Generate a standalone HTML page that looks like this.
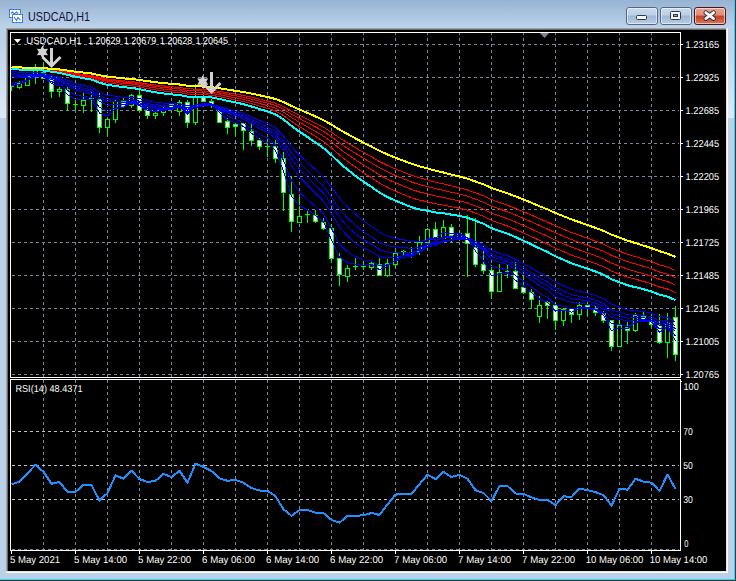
<!DOCTYPE html>
<html><head><meta charset="utf-8"><style>
html,body{margin:0;padding:0;width:736px;height:581px;overflow:hidden;background:#bbd1ea;}
svg{position:absolute;left:0;top:0;display:block}
</style></head><body>
<svg width="736" height="581" viewBox="0 0 736 581">
<defs>
<linearGradient id="tb" x1="0" y1="0" x2="0" y2="1">
<stop offset="0" stop-color="#97b3d3"/><stop offset="1" stop-color="#bcd3eb"/>
</linearGradient>
<linearGradient id="bt" x1="0" y1="0" x2="0" y2="1">
<stop offset="0" stop-color="#c9dbee"/><stop offset="0.45" stop-color="#bdd0e6"/><stop offset="0.5" stop-color="#9db7d4"/><stop offset="1" stop-color="#b8cee6"/>
</linearGradient>
<linearGradient id="cl" x1="0" y1="0" x2="0" y2="1">
<stop offset="0" stop-color="#e9a493"/><stop offset="0.45" stop-color="#df8d78"/><stop offset="0.5" stop-color="#c2401f"/><stop offset="1" stop-color="#da7a62"/>
</linearGradient>
<linearGradient id="lp" x1="0" y1="0" x2="0" y2="1">
<stop offset="0" stop-color="#bbd1ea"/><stop offset="1" stop-color="#dde9f6"/>
</linearGradient>
</defs>
<rect x="0" y="0" width="736" height="581" fill="#bbd1ea"/>
<rect x="0" y="0" width="736" height="28" fill="url(#tb)"/>
<rect x="0" y="40" width="6" height="78" fill="url(#lp)"/>
<rect x="728" y="40" width="6" height="78" fill="url(#lp)"/>
<rect x="734" y="0" width="1" height="580" fill="#3ccdf0"/>
<rect x="735" y="0" width="1" height="581" fill="#28404c"/>
<rect x="0" y="579" width="735" height="1" fill="#3ccdf0"/>
<rect x="0" y="580" width="736" height="1" fill="#28404c"/>
<g shape-rendering="crispEdges">
<rect x="9.5" y="9.5" width="11" height="8" fill="#fff" stroke="#4a86f0" stroke-width="1"/>
<rect x="9.5" y="9.5" width="11" height="8" fill="none" stroke="#3d7068" stroke-width="1" stroke-dasharray="1 2"/>
<rect x="12.5" y="14.5" width="10" height="8" fill="#fff" stroke="#4a86f0" stroke-width="1"/>
<rect x="12.5" y="14.5" width="10" height="8" fill="none" stroke="#3d7068" stroke-width="1" stroke-dasharray="1 2"/>
</g>
<polyline points="11,13.5 12.5,12 14,13.5 15,13.5 16.5,12 18,13.5" fill="none" stroke="#3a78f0" stroke-width="1.1"/>
<polyline points="14,17 16.5,20.5 18,17.5 20.5,20.5" fill="none" stroke="#3a78f0" stroke-width="1.1"/>
<text x="28" y="20.5" font-family="Liberation Sans, sans-serif" font-size="12.3px" fill="#10103a" textLength="62" lengthAdjust="spacingAndGlyphs">USDCAD,H1</text>
<rect x="626.5" y="7.5" width="31" height="17" rx="2.5" fill="url(#bt)" stroke="#56677f"/><rect x="627.5" y="8.5" width="29" height="15" rx="1.5" fill="none" stroke="rgba(255,255,255,0.55)"/><rect x="660.5" y="7.5" width="31" height="17" rx="2.5" fill="url(#bt)" stroke="#56677f"/><rect x="661.5" y="8.5" width="29" height="15" rx="1.5" fill="none" stroke="rgba(255,255,255,0.55)"/><rect x="694.5" y="7.5" width="31" height="17" rx="2.5" fill="url(#cl)" stroke="#4a1418"/><rect x="695.5" y="8.5" width="29" height="15" rx="1.5" fill="none" stroke="rgba(255,255,255,0.55)"/><rect x="636.5" y="15.5" width="10" height="4" rx="1" fill="#f4f4f4" stroke="#2f3646"/><rect x="670.5" y="11.5" width="10" height="8" rx="1" fill="#f4f4f4" stroke="#2f3646"/><rect x="673.5" y="14.5" width="4" height="2" fill="#8fa6c4" stroke="#2f3646"/><path d="M705.8,12.6 L713.6,18.6 M713.6,12.6 L705.8,18.6" stroke="#2d2d3d" stroke-width="4.6" stroke-linecap="round"/><path d="M705.8,12.6 L713.6,18.6 M713.6,12.6 L705.8,18.6" stroke="#f4f4f4" stroke-width="2.8" stroke-linecap="round"/>
<g shape-rendering="crispEdges">
<rect x="6" y="28" width="722" height="545" fill="#ffffff"/>
<rect x="6" y="28" width="721" height="544" fill="#e3e3e3"/>
<rect x="6" y="28" width="720" height="543" fill="#a0a0a0"/>
<rect x="7" y="29" width="719" height="542" fill="#e3e3e3"/>
<rect x="7" y="29" width="719" height="542" fill="#696969"/>
<rect x="8" y="30" width="718" height="541" fill="#000"/>
<rect x="726" y="29" width="1" height="543" fill="#e3e3e3"/>
<rect x="7" y="571" width="720" height="1" fill="#e3e3e3"/>
</g>
<g shape-rendering="crispEdges" fill="none" stroke-width="1">
<line x1="43.5" y1="32" x2="43.5" y2="377" stroke="#778899" stroke-dasharray="3 3"/>
<line x1="43.5" y1="380" x2="43.5" y2="550" stroke="#778899" stroke-dasharray="3 3"/>
<line x1="75.5" y1="32" x2="75.5" y2="377" stroke="#778899" stroke-dasharray="3 3"/>
<line x1="75.5" y1="380" x2="75.5" y2="550" stroke="#778899" stroke-dasharray="3 3"/>
<line x1="107.5" y1="32" x2="107.5" y2="377" stroke="#778899" stroke-dasharray="3 3"/>
<line x1="107.5" y1="380" x2="107.5" y2="550" stroke="#778899" stroke-dasharray="3 3"/>
<line x1="139.5" y1="32" x2="139.5" y2="377" stroke="#778899" stroke-dasharray="3 3"/>
<line x1="139.5" y1="380" x2="139.5" y2="550" stroke="#778899" stroke-dasharray="3 3"/>
<line x1="171.5" y1="32" x2="171.5" y2="377" stroke="#778899" stroke-dasharray="3 3"/>
<line x1="171.5" y1="380" x2="171.5" y2="550" stroke="#778899" stroke-dasharray="3 3"/>
<line x1="203.5" y1="32" x2="203.5" y2="377" stroke="#778899" stroke-dasharray="3 3"/>
<line x1="203.5" y1="380" x2="203.5" y2="550" stroke="#778899" stroke-dasharray="3 3"/>
<line x1="235.5" y1="32" x2="235.5" y2="377" stroke="#778899" stroke-dasharray="3 3"/>
<line x1="235.5" y1="380" x2="235.5" y2="550" stroke="#778899" stroke-dasharray="3 3"/>
<line x1="267.5" y1="32" x2="267.5" y2="377" stroke="#778899" stroke-dasharray="3 3"/>
<line x1="267.5" y1="380" x2="267.5" y2="550" stroke="#778899" stroke-dasharray="3 3"/>
<line x1="299.5" y1="32" x2="299.5" y2="377" stroke="#778899" stroke-dasharray="3 3"/>
<line x1="299.5" y1="380" x2="299.5" y2="550" stroke="#778899" stroke-dasharray="3 3"/>
<line x1="331.5" y1="32" x2="331.5" y2="377" stroke="#778899" stroke-dasharray="3 3"/>
<line x1="331.5" y1="380" x2="331.5" y2="550" stroke="#778899" stroke-dasharray="3 3"/>
<line x1="363.5" y1="32" x2="363.5" y2="377" stroke="#778899" stroke-dasharray="3 3"/>
<line x1="363.5" y1="380" x2="363.5" y2="550" stroke="#778899" stroke-dasharray="3 3"/>
<line x1="395.5" y1="32" x2="395.5" y2="377" stroke="#778899" stroke-dasharray="3 3"/>
<line x1="395.5" y1="380" x2="395.5" y2="550" stroke="#778899" stroke-dasharray="3 3"/>
<line x1="427.5" y1="32" x2="427.5" y2="377" stroke="#778899" stroke-dasharray="3 3"/>
<line x1="427.5" y1="380" x2="427.5" y2="550" stroke="#778899" stroke-dasharray="3 3"/>
<line x1="459.5" y1="32" x2="459.5" y2="377" stroke="#778899" stroke-dasharray="3 3"/>
<line x1="459.5" y1="380" x2="459.5" y2="550" stroke="#778899" stroke-dasharray="3 3"/>
<line x1="491.5" y1="32" x2="491.5" y2="377" stroke="#778899" stroke-dasharray="3 3"/>
<line x1="491.5" y1="380" x2="491.5" y2="550" stroke="#778899" stroke-dasharray="3 3"/>
<line x1="523.5" y1="32" x2="523.5" y2="377" stroke="#778899" stroke-dasharray="3 3"/>
<line x1="523.5" y1="380" x2="523.5" y2="550" stroke="#778899" stroke-dasharray="3 3"/>
<line x1="555.5" y1="32" x2="555.5" y2="377" stroke="#778899" stroke-dasharray="3 3"/>
<line x1="555.5" y1="380" x2="555.5" y2="550" stroke="#778899" stroke-dasharray="3 3"/>
<line x1="587.5" y1="32" x2="587.5" y2="377" stroke="#778899" stroke-dasharray="3 3"/>
<line x1="587.5" y1="380" x2="587.5" y2="550" stroke="#778899" stroke-dasharray="3 3"/>
<line x1="619.5" y1="32" x2="619.5" y2="377" stroke="#778899" stroke-dasharray="3 3"/>
<line x1="619.5" y1="380" x2="619.5" y2="550" stroke="#778899" stroke-dasharray="3 3"/>
<line x1="651.5" y1="32" x2="651.5" y2="377" stroke="#778899" stroke-dasharray="3 3"/>
<line x1="651.5" y1="380" x2="651.5" y2="550" stroke="#778899" stroke-dasharray="3 3"/>
<line x1="12" y1="44.5" x2="679" y2="44.5" stroke="#778899" stroke-dasharray="3 3"/>
<line x1="12" y1="77.5" x2="679" y2="77.5" stroke="#778899" stroke-dasharray="3 3"/>
<line x1="12" y1="110.5" x2="679" y2="110.5" stroke="#778899" stroke-dasharray="3 3"/>
<line x1="12" y1="143.5" x2="679" y2="143.5" stroke="#778899" stroke-dasharray="3 3"/>
<line x1="12" y1="176.5" x2="679" y2="176.5" stroke="#778899" stroke-dasharray="3 3"/>
<line x1="12" y1="209.5" x2="679" y2="209.5" stroke="#778899" stroke-dasharray="3 3"/>
<line x1="12" y1="242.5" x2="679" y2="242.5" stroke="#778899" stroke-dasharray="3 3"/>
<line x1="12" y1="275.5" x2="679" y2="275.5" stroke="#778899" stroke-dasharray="3 3"/>
<line x1="12" y1="308.5" x2="679" y2="308.5" stroke="#778899" stroke-dasharray="3 3"/>
<line x1="12" y1="341.5" x2="679" y2="341.5" stroke="#778899" stroke-dasharray="3 3"/>
<line x1="12" y1="374.5" x2="679" y2="374.5" stroke="#778899" stroke-dasharray="3 3"/>
<line x1="12" y1="549.5" x2="679" y2="549.5" stroke="#778899" stroke-dasharray="3 3"/>
<line x1="12" y1="431.5" x2="679" y2="431.5" stroke="#c0c0c0" stroke-dasharray="3 3"/>
<line x1="12" y1="465.5" x2="679" y2="465.5" stroke="#c0c0c0" stroke-dasharray="3 3"/>
<line x1="12" y1="499.5" x2="679" y2="499.5" stroke="#c0c0c0" stroke-dasharray="3 3"/>
<rect x="10.5" y="32.5" width="670" height="345" stroke="#fff"/>
<rect x="10.5" y="379.5" width="670" height="171" stroke="#fff"/>
<rect x="681" y="44" width="2" height="1" fill="#fff" stroke="none"/>
<rect x="681" y="77" width="2" height="1" fill="#fff" stroke="none"/>
<rect x="681" y="110" width="2" height="1" fill="#fff" stroke="none"/>
<rect x="681" y="143" width="2" height="1" fill="#fff" stroke="none"/>
<rect x="681" y="176" width="2" height="1" fill="#fff" stroke="none"/>
<rect x="681" y="209" width="2" height="1" fill="#fff" stroke="none"/>
<rect x="681" y="242" width="2" height="1" fill="#fff" stroke="none"/>
<rect x="681" y="275" width="2" height="1" fill="#fff" stroke="none"/>
<rect x="681" y="308" width="2" height="1" fill="#fff" stroke="none"/>
<rect x="681" y="341" width="2" height="1" fill="#fff" stroke="none"/>
<rect x="681" y="374" width="2" height="1" fill="#fff" stroke="none"/>
<rect x="681" y="381" width="1" height="1" fill="#fff" stroke="none"/>
<rect x="11" y="551" width="1" height="3" fill="#fff" stroke="none"/>
<rect x="75" y="551" width="1" height="3" fill="#fff" stroke="none"/>
<rect x="139" y="551" width="1" height="3" fill="#fff" stroke="none"/>
<rect x="203" y="551" width="1" height="3" fill="#fff" stroke="none"/>
<rect x="267" y="551" width="1" height="3" fill="#fff" stroke="none"/>
<rect x="331" y="551" width="1" height="3" fill="#fff" stroke="none"/>
<rect x="395" y="551" width="1" height="3" fill="#fff" stroke="none"/>
<rect x="459" y="551" width="1" height="3" fill="#fff" stroke="none"/>
<rect x="523" y="551" width="1" height="3" fill="#fff" stroke="none"/>
<rect x="587" y="551" width="1" height="3" fill="#fff" stroke="none"/>
<rect x="651" y="551" width="1" height="3" fill="#fff" stroke="none"/>
<polygon points="540,33 549,33 544.5,38" fill="#778899" stroke="none" shape-rendering="auto"/>
</g>
<clipPath id="mc"><rect x="11" y="33" width="669" height="344"/></clipPath>
<clipPath id="rc"><rect x="11" y="380" width="669" height="170"/></clipPath>
<g clip-path="url(#mc)" shape-rendering="crispEdges">
<rect x="11" y="86" width="3" height="1" fill="#00ff00"/><rect x="11" y="86" width="1" height="5" fill="#00ff00"/>
<rect x="19" y="81" width="1" height="8" fill="#00ff00"/>
<rect x="17.5" y="83.5" width="4" height="4" fill="#000" stroke="#00ff00"/>
<rect x="27" y="74" width="1" height="12" fill="#00ff00"/>
<rect x="25.5" y="76.5" width="4" height="9" fill="#000" stroke="#00ff00"/>
<rect x="35" y="64" width="1" height="20" fill="#00ff00"/>
<rect x="33.5" y="70.5" width="4" height="6" fill="#000" stroke="#00ff00"/>
<rect x="43" y="62" width="1" height="16" fill="#00ff00"/>
<rect x="41.5" y="72.5" width="4" height="6" fill="#fff" stroke="#00ff00"/>
<rect x="51" y="75" width="1" height="23" fill="#00ff00"/>
<rect x="49.5" y="78.5" width="4" height="13" fill="#fff" stroke="#00ff00"/>
<rect x="59" y="87" width="1" height="10" fill="#00ff00"/>
<rect x="57.5" y="89.5" width="4" height="2" fill="#000" stroke="#00ff00"/>
<rect x="67" y="87" width="1" height="24" fill="#00ff00"/>
<rect x="65.5" y="89.5" width="4" height="14" fill="#fff" stroke="#00ff00"/>
<rect x="75" y="99" width="1" height="11" fill="#00ff00"/>
<rect x="73" y="104" width="5" height="1" fill="#00ff00"/>
<rect x="83" y="93" width="1" height="20" fill="#00ff00"/>
<rect x="81.5" y="100.5" width="4" height="5" fill="#000" stroke="#00ff00"/>
<rect x="91" y="92" width="1" height="20" fill="#00ff00"/>
<rect x="89" y="98" width="5" height="1" fill="#00ff00"/>
<rect x="99" y="92" width="1" height="41" fill="#00ff00"/>
<rect x="97.5" y="99.5" width="4" height="28" fill="#fff" stroke="#00ff00"/>
<rect x="107" y="118" width="1" height="18" fill="#00ff00"/>
<rect x="105.5" y="119.5" width="4" height="8" fill="#000" stroke="#00ff00"/>
<rect x="115" y="100" width="1" height="23" fill="#00ff00"/>
<rect x="113.5" y="101.5" width="4" height="18" fill="#000" stroke="#00ff00"/>
<rect x="123" y="98" width="1" height="9" fill="#00ff00"/>
<rect x="121.5" y="101.5" width="4" height="5" fill="#fff" stroke="#00ff00"/>
<rect x="131" y="94" width="1" height="14" fill="#00ff00"/>
<rect x="129.5" y="95.5" width="4" height="10" fill="#000" stroke="#00ff00"/>
<rect x="139" y="90" width="1" height="20" fill="#00ff00"/>
<rect x="137.5" y="95.5" width="4" height="15" fill="#fff" stroke="#00ff00"/>
<rect x="147" y="107" width="1" height="12" fill="#00ff00"/>
<rect x="145.5" y="110.5" width="4" height="5" fill="#fff" stroke="#00ff00"/>
<rect x="155" y="111" width="1" height="8" fill="#00ff00"/>
<rect x="153.5" y="113.5" width="4" height="2" fill="#000" stroke="#00ff00"/>
<rect x="163" y="105" width="1" height="11" fill="#00ff00"/>
<rect x="161.5" y="109.5" width="4" height="3" fill="#000" stroke="#00ff00"/>
<rect x="171" y="103" width="1" height="10" fill="#00ff00"/>
<rect x="169.5" y="104.5" width="4" height="4" fill="#fff" stroke="#00ff00"/>
<rect x="179" y="100" width="1" height="16" fill="#00ff00"/>
<rect x="177.5" y="102.5" width="4" height="9" fill="#000" stroke="#00ff00"/>
<rect x="187" y="100" width="1" height="28" fill="#00ff00"/>
<rect x="185.5" y="102.5" width="4" height="20" fill="#fff" stroke="#00ff00"/>
<rect x="195" y="84" width="1" height="41" fill="#00ff00"/>
<rect x="193.5" y="97.5" width="4" height="25" fill="#000" stroke="#00ff00"/>
<rect x="203" y="94" width="1" height="8" fill="#00ff00"/>
<rect x="201.5" y="97.5" width="4" height="4" fill="#fff" stroke="#00ff00"/>
<rect x="211" y="99" width="1" height="9" fill="#00ff00"/>
<rect x="209.5" y="101.5" width="4" height="3" fill="#fff" stroke="#00ff00"/>
<rect x="219" y="109" width="1" height="14" fill="#00ff00"/>
<rect x="217.5" y="111.5" width="4" height="11" fill="#fff" stroke="#00ff00"/>
<rect x="227" y="118" width="1" height="16" fill="#00ff00"/>
<rect x="225.5" y="121.5" width="4" height="6" fill="#fff" stroke="#00ff00"/>
<rect x="235" y="123" width="1" height="13" fill="#00ff00"/>
<rect x="233.5" y="124.5" width="4" height="2" fill="#fff" stroke="#00ff00"/>
<rect x="243" y="122" width="1" height="28" fill="#00ff00"/>
<rect x="241.5" y="123.5" width="4" height="7" fill="#fff" stroke="#00ff00"/>
<rect x="251" y="124" width="1" height="22" fill="#00ff00"/>
<rect x="249.5" y="131.5" width="4" height="9" fill="#fff" stroke="#00ff00"/>
<rect x="259" y="138" width="1" height="12" fill="#00ff00"/>
<rect x="257.5" y="140.5" width="4" height="6" fill="#fff" stroke="#00ff00"/>
<rect x="267" y="138" width="1" height="19" fill="#00ff00"/>
<rect x="265" y="146" width="5" height="1" fill="#00ff00"/>
<rect x="275" y="140" width="1" height="23" fill="#00ff00"/>
<rect x="273.5" y="146.5" width="4" height="12" fill="#fff" stroke="#00ff00"/>
<rect x="283" y="152" width="1" height="59" fill="#00ff00"/>
<rect x="281.5" y="158.5" width="4" height="34" fill="#fff" stroke="#00ff00"/>
<rect x="291" y="176" width="1" height="56" fill="#00ff00"/>
<rect x="289.5" y="194.5" width="4" height="27" fill="#fff" stroke="#00ff00"/>
<rect x="299" y="197" width="1" height="26" fill="#00ff00"/>
<rect x="297.5" y="216.5" width="4" height="6" fill="#000" stroke="#00ff00"/>
<rect x="307" y="211" width="1" height="12" fill="#00ff00"/>
<rect x="305" y="214" width="5" height="1" fill="#00ff00"/>
<rect x="315" y="210" width="1" height="13" fill="#00ff00"/>
<rect x="313.5" y="215.5" width="4" height="6" fill="#fff" stroke="#00ff00"/>
<rect x="323" y="218" width="1" height="12" fill="#00ff00"/>
<rect x="321.5" y="222.5" width="4" height="6" fill="#fff" stroke="#00ff00"/>
<rect x="331" y="224" width="1" height="38" fill="#00ff00"/>
<rect x="329.5" y="228.5" width="4" height="30" fill="#fff" stroke="#00ff00"/>
<rect x="339" y="253" width="1" height="33" fill="#00ff00"/>
<rect x="337.5" y="258.5" width="4" height="16" fill="#fff" stroke="#00ff00"/>
<rect x="347" y="265" width="1" height="17" fill="#00ff00"/>
<rect x="345.5" y="268.5" width="4" height="8" fill="#000" stroke="#00ff00"/>
<rect x="355" y="258" width="1" height="12" fill="#00ff00"/>
<rect x="353" y="266" width="5" height="1" fill="#00ff00"/>
<rect x="363" y="261" width="1" height="9" fill="#00ff00"/>
<rect x="361" y="266" width="5" height="1" fill="#00ff00"/>
<rect x="371" y="260" width="1" height="10" fill="#00ff00"/>
<rect x="369.5" y="263.5" width="4" height="4" fill="#000" stroke="#00ff00"/>
<rect x="379" y="258" width="1" height="18" fill="#00ff00"/>
<rect x="377.5" y="264.5" width="4" height="11" fill="#fff" stroke="#00ff00"/>
<rect x="387" y="259" width="1" height="18" fill="#00ff00"/>
<rect x="385.5" y="263.5" width="4" height="12" fill="#000" stroke="#00ff00"/>
<rect x="395" y="251" width="1" height="17" fill="#00ff00"/>
<rect x="393.5" y="253.5" width="4" height="11" fill="#000" stroke="#00ff00"/>
<rect x="403" y="250" width="1" height="6" fill="#00ff00"/>
<rect x="401" y="251" width="5" height="1" fill="#00ff00"/>
<rect x="411" y="247" width="1" height="11" fill="#00ff00"/>
<rect x="409" y="254" width="5" height="1" fill="#00ff00"/>
<rect x="419" y="236" width="1" height="19" fill="#00ff00"/>
<rect x="417.5" y="242.5" width="4" height="9" fill="#000" stroke="#00ff00"/>
<rect x="427" y="228" width="1" height="22" fill="#00ff00"/>
<rect x="425.5" y="229.5" width="4" height="13" fill="#000" stroke="#00ff00"/>
<rect x="435" y="222" width="1" height="16" fill="#00ff00"/>
<rect x="433.5" y="229.5" width="4" height="8" fill="#fff" stroke="#00ff00"/>
<rect x="443" y="220" width="1" height="19" fill="#00ff00"/>
<rect x="441.5" y="227.5" width="4" height="11" fill="#000" stroke="#00ff00"/>
<rect x="451" y="224" width="1" height="19" fill="#00ff00"/>
<rect x="449.5" y="227.5" width="4" height="8" fill="#fff" stroke="#00ff00"/>
<rect x="459" y="230" width="1" height="11" fill="#00ff00"/>
<rect x="457.5" y="233.5" width="4" height="4" fill="#000" stroke="#00ff00"/>
<rect x="467" y="215" width="1" height="62" fill="#00ff00"/>
<rect x="465.5" y="233.5" width="4" height="10" fill="#fff" stroke="#00ff00"/>
<rect x="475" y="218" width="1" height="49" fill="#00ff00"/>
<rect x="473.5" y="247.5" width="4" height="17" fill="#fff" stroke="#00ff00"/>
<rect x="483" y="246" width="1" height="28" fill="#00ff00"/>
<rect x="481.5" y="264.5" width="4" height="6" fill="#fff" stroke="#00ff00"/>
<rect x="491" y="265" width="1" height="34" fill="#00ff00"/>
<rect x="489.5" y="270.5" width="4" height="21" fill="#fff" stroke="#00ff00"/>
<rect x="499" y="264" width="1" height="27" fill="#00ff00"/>
<rect x="497.5" y="272.5" width="4" height="19" fill="#000" stroke="#00ff00"/>
<rect x="507" y="265" width="1" height="13" fill="#00ff00"/>
<rect x="505" y="271" width="5" height="1" fill="#00ff00"/>
<rect x="515" y="262" width="1" height="27" fill="#00ff00"/>
<rect x="513.5" y="271.5" width="4" height="17" fill="#fff" stroke="#00ff00"/>
<rect x="523" y="276" width="1" height="18" fill="#00ff00"/>
<rect x="521.5" y="287.5" width="4" height="5" fill="#fff" stroke="#00ff00"/>
<rect x="531" y="289" width="1" height="20" fill="#00ff00"/>
<rect x="529.5" y="292.5" width="4" height="7" fill="#fff" stroke="#00ff00"/>
<rect x="539" y="296" width="1" height="27" fill="#00ff00"/>
<rect x="537.5" y="305.5" width="4" height="11" fill="#000" stroke="#00ff00"/>
<rect x="547" y="301" width="1" height="18" fill="#00ff00"/>
<rect x="545.5" y="302.5" width="4" height="3" fill="#fff" stroke="#00ff00"/>
<rect x="555" y="302" width="1" height="28" fill="#00ff00"/>
<rect x="553.5" y="305.5" width="4" height="15" fill="#fff" stroke="#00ff00"/>
<rect x="563" y="308" width="1" height="18" fill="#00ff00"/>
<rect x="561.5" y="309.5" width="4" height="11" fill="#000" stroke="#00ff00"/>
<rect x="571" y="308" width="1" height="15" fill="#00ff00"/>
<rect x="569.5" y="308.5" width="4" height="6" fill="#fff" stroke="#00ff00"/>
<rect x="579" y="302" width="1" height="18" fill="#00ff00"/>
<rect x="577.5" y="305.5" width="4" height="9" fill="#000" stroke="#00ff00"/>
<rect x="587" y="301" width="1" height="15" fill="#00ff00"/>
<rect x="585.5" y="305.5" width="4" height="3" fill="#fff" stroke="#00ff00"/>
<rect x="595" y="306" width="1" height="10" fill="#00ff00"/>
<rect x="593.5" y="308.5" width="4" height="4" fill="#fff" stroke="#00ff00"/>
<rect x="603" y="311" width="1" height="12" fill="#00ff00"/>
<rect x="601.5" y="313.5" width="4" height="7" fill="#fff" stroke="#00ff00"/>
<rect x="611" y="320" width="1" height="31" fill="#00ff00"/>
<rect x="609.5" y="320.5" width="4" height="26" fill="#fff" stroke="#00ff00"/>
<rect x="619" y="320" width="1" height="26" fill="#00ff00"/>
<rect x="617.5" y="325.5" width="4" height="21" fill="#000" stroke="#00ff00"/>
<rect x="627" y="322" width="1" height="22" fill="#00ff00"/>
<rect x="625.5" y="327.5" width="4" height="3" fill="#fff" stroke="#00ff00"/>
<rect x="635" y="313" width="1" height="19" fill="#00ff00"/>
<rect x="633.5" y="315.5" width="4" height="15" fill="#000" stroke="#00ff00"/>
<rect x="643" y="312" width="1" height="10" fill="#00ff00"/>
<rect x="641.5" y="316.5" width="4" height="3" fill="#fff" stroke="#00ff00"/>
<rect x="651" y="314" width="1" height="14" fill="#00ff00"/>
<rect x="649.5" y="321.5" width="4" height="3" fill="#fff" stroke="#00ff00"/>
<rect x="659" y="314" width="1" height="30" fill="#00ff00"/>
<rect x="657.5" y="325.5" width="4" height="17" fill="#fff" stroke="#00ff00"/>
<rect x="667" y="313" width="1" height="45" fill="#00ff00"/>
<rect x="665.5" y="323.5" width="4" height="19" fill="#000" stroke="#00ff00"/>
<rect x="675" y="306" width="1" height="55" fill="#00ff00"/>
<rect x="673.5" y="317.5" width="4" height="37" fill="#fff" stroke="#00ff00"/>
</g>
<g clip-path="url(#mc)" fill="none" stroke-linejoin="miter" shape-rendering="crispEdges">
<polyline points="11.5,68.3 19.5,69.1 27.5,69.5 35.5,69.5 43.5,70.0 51.5,71.1 59.5,72.1 67.5,73.8 75.5,75.5 83.5,76.9 91.5,78.1 99.5,80.8 107.5,82.9 115.5,83.9 123.5,85.2 131.5,85.7 139.5,87.1 147.5,88.6 155.5,90.0 163.5,91.0 171.5,92.0 179.5,92.6 187.5,94.2 195.5,94.4 203.5,94.7 211.5,95.3 219.5,96.7 227.5,98.4 235.5,99.9 243.5,101.6 251.5,103.7 259.5,106.1 267.5,108.3 275.5,111.0 283.5,115.5 291.5,121.4 299.5,126.6 307.5,131.5 315.5,136.4 323.5,141.5 331.5,148.0 339.5,155.0 347.5,161.3 355.5,167.1 363.5,172.7 371.5,177.7 379.5,183.1 387.5,187.5 395.5,191.2 403.5,194.5 411.5,197.8 419.5,200.2 427.5,201.8 435.5,203.8 443.5,205.1 451.5,206.7 459.5,208.2 467.5,210.1 475.5,213.1 483.5,216.3 491.5,220.4 499.5,223.3 507.5,226.0 515.5,229.4 523.5,232.9 531.5,236.6 539.5,240.4 547.5,244.0 555.5,248.2 563.5,251.6 571.5,255.1 579.5,257.9 587.5,260.6 595.5,263.5 603.5,266.7 611.5,271.1 619.5,274.1 627.5,277.1 635.5,279.2 643.5,281.4 651.5,283.8 659.5,287.0 667.5,289.0 675.5,292.6" stroke="#ff0000" stroke-width="1"/>
<polyline points="11.5,68.2 19.5,68.9 27.5,69.2 35.5,69.3 43.5,69.7 51.5,70.7 59.5,71.6 67.5,73.1 75.5,74.6 83.5,75.9 91.5,77.0 99.5,79.4 107.5,81.4 115.5,82.3 123.5,83.5 131.5,84.0 139.5,85.3 147.5,86.8 155.5,88.0 163.5,89.1 171.5,90.0 179.5,90.6 187.5,92.2 195.5,92.4 203.5,92.8 211.5,93.4 219.5,94.7 227.5,96.3 235.5,97.8 243.5,99.3 251.5,101.3 259.5,103.5 267.5,105.5 275.5,108.1 283.5,112.2 291.5,117.5 299.5,122.3 307.5,126.8 315.5,131.4 323.5,136.1 331.5,142.0 339.5,148.5 347.5,154.3 355.5,159.8 363.5,165.0 371.5,169.8 379.5,174.9 387.5,179.2 395.5,182.8 403.5,186.1 411.5,189.4 419.5,192.0 427.5,193.8 435.5,195.9 443.5,197.4 451.5,199.3 459.5,200.9 467.5,203.0 475.5,205.9 483.5,209.1 491.5,213.1 499.5,215.9 507.5,218.7 515.5,222.0 523.5,225.4 531.5,229.0 539.5,232.8 547.5,236.3 555.5,240.4 563.5,243.7 571.5,247.2 579.5,250.0 587.5,252.8 595.5,255.7 603.5,258.9 611.5,263.1 619.5,266.1 627.5,269.2 635.5,271.5 643.5,273.8 651.5,276.2 659.5,279.4 667.5,281.5 675.5,285.1" stroke="#ff0000" stroke-width="1"/>
<polyline points="11.5,68.1 19.5,68.7 27.5,69.0 35.5,69.1 43.5,69.4 51.5,70.4 59.5,71.2 67.5,72.6 75.5,73.9 83.5,75.1 91.5,76.1 99.5,78.3 107.5,80.1 115.5,81.0 123.5,82.1 131.5,82.7 139.5,83.8 147.5,85.2 155.5,86.4 163.5,87.4 171.5,88.3 179.5,88.9 187.5,90.4 195.5,90.6 203.5,91.1 211.5,91.7 219.5,93.0 227.5,94.4 235.5,95.8 243.5,97.3 251.5,99.2 259.5,101.2 267.5,103.1 275.5,105.5 283.5,109.3 291.5,114.1 299.5,118.5 307.5,122.7 315.5,127.0 323.5,131.3 331.5,136.9 339.5,142.8 347.5,148.3 355.5,153.4 363.5,158.3 371.5,162.9 379.5,167.8 387.5,171.9 395.5,175.4 403.5,178.7 411.5,182.0 419.5,184.6 427.5,186.5 435.5,188.7 443.5,190.4 451.5,192.3 459.5,194.1 467.5,196.2 475.5,199.2 483.5,202.2 491.5,206.1 499.5,209.0 507.5,211.7 515.5,215.0 523.5,218.4 531.5,221.9 539.5,225.5 547.5,229.0 555.5,232.9 563.5,236.2 571.5,239.6 579.5,242.5 587.5,245.3 595.5,248.2 603.5,251.3 611.5,255.5 619.5,258.5 627.5,261.6 635.5,263.9 643.5,266.3 651.5,268.8 659.5,272.0 667.5,274.2 675.5,277.7" stroke="#ff0000" stroke-width="1"/>
<polyline points="11.5,68.0 19.5,68.6 27.5,68.9 35.5,68.9 43.5,69.3 51.5,70.1 59.5,70.8 67.5,72.1 75.5,73.4 83.5,74.4 91.5,75.4 99.5,77.4 107.5,79.0 115.5,79.9 123.5,80.9 131.5,81.5 139.5,82.6 147.5,83.9 155.5,85.0 163.5,85.9 171.5,86.8 179.5,87.4 187.5,88.8 195.5,89.1 203.5,89.6 211.5,90.1 219.5,91.4 227.5,92.8 235.5,94.1 243.5,95.5 251.5,97.2 259.5,99.1 267.5,101.0 275.5,103.2 283.5,106.7 291.5,111.2 299.5,115.3 307.5,119.1 315.5,123.1 323.5,127.2 331.5,132.4 339.5,137.9 347.5,143.0 355.5,147.9 363.5,152.5 371.5,156.9 379.5,161.5 387.5,165.5 395.5,168.9 403.5,172.1 411.5,175.3 419.5,177.9 427.5,179.9 435.5,182.2 443.5,183.9 451.5,185.9 459.5,187.8 467.5,190.0 475.5,192.9 483.5,195.9 491.5,199.6 499.5,202.5 507.5,205.2 515.5,208.4 523.5,211.7 531.5,215.1 539.5,218.7 547.5,222.1 555.5,225.9 563.5,229.2 571.5,232.5 579.5,235.3 587.5,238.2 595.5,241.1 603.5,244.2 611.5,248.2 619.5,251.2 627.5,254.3 635.5,256.6 643.5,259.1 651.5,261.6 659.5,264.8 667.5,267.1 675.5,270.5" stroke="#ff0000" stroke-width="1"/>
<polyline points="11.5,66.9 19.5,67.4 27.5,67.7 35.5,67.8 43.5,68.1 51.5,68.9 59.5,69.5 67.5,70.6 75.5,71.7 83.5,72.6 91.5,73.5 99.5,75.3 107.5,76.7 115.5,77.5 123.5,78.4 131.5,79.0 139.5,80.0 147.5,81.1 155.5,82.2 163.5,83.1 171.5,83.9 179.5,84.5 187.5,85.7 195.5,86.1 203.5,86.6 211.5,87.2 219.5,88.3 227.5,89.6 235.5,90.8 243.5,92.0 251.5,93.6 259.5,95.3 267.5,97.0 275.5,99.0 283.5,102.0 291.5,105.9 299.5,109.5 307.5,112.9 315.5,116.5 323.5,120.1 331.5,124.7 339.5,129.6 347.5,134.1 355.5,138.4 363.5,142.7 371.5,146.6 379.5,150.8 387.5,154.5 395.5,157.7 403.5,160.8 411.5,163.8 419.5,166.4 427.5,168.4 435.5,170.7 443.5,172.5 451.5,174.6 459.5,176.5 467.5,178.7 475.5,181.5 483.5,184.4 491.5,187.9 499.5,190.6 507.5,193.3 515.5,196.4 523.5,199.5 531.5,202.8 539.5,206.2 547.5,209.4 555.5,213.0 563.5,216.2 571.5,219.4 579.5,222.2 587.5,225.0 595.5,227.9 603.5,230.9 611.5,234.7 619.5,237.6 627.5,240.6 635.5,243.1 643.5,245.6 651.5,248.1 659.5,251.2 667.5,253.6 675.5,256.9" stroke="#ffff00" stroke-width="2"/>
<polyline points="11.5,71.0 19.5,72.5 27.5,72.9 35.5,72.6 43.5,73.2 51.5,75.4 59.5,77.1 67.5,80.3 75.5,83.3 83.5,85.4 91.5,87.1 99.5,92.1 107.5,95.4 115.5,96.1 123.5,97.4 131.5,97.1 139.5,98.7 147.5,100.7 155.5,102.3 163.5,103.1 171.5,103.8 179.5,103.6 187.5,105.9 195.5,104.8 203.5,104.3 211.5,104.3 219.5,106.4 227.5,109.0 235.5,111.1 243.5,113.5 251.5,116.8 259.5,120.4 267.5,123.6 275.5,127.9 283.5,135.9 291.5,146.5 299.5,155.2 307.5,162.5 315.5,169.8 323.5,177.1 331.5,187.2 339.5,198.1 347.5,206.9 355.5,214.3 363.5,220.8 371.5,226.1 379.5,232.2 387.5,236.1 395.5,238.2 403.5,239.8 411.5,241.5 419.5,241.6 427.5,240.0 435.5,239.6 443.5,238.1 451.5,237.7 459.5,237.1 467.5,237.8 475.5,241.1 483.5,244.7 491.5,250.5 499.5,253.2 507.5,255.5 515.5,259.5 523.5,263.6 531.5,268.0 539.5,272.7 547.5,276.8 555.5,282.2 563.5,285.6 571.5,289.1 579.5,291.1 587.5,293.2 595.5,295.5 603.5,298.6 611.5,304.6 619.5,307.1 627.5,309.9 635.5,310.6 643.5,311.6 651.5,313.1 659.5,316.7 667.5,317.5 675.5,322.1" stroke="#0000ff" stroke-width="1"/>
<polyline points="11.5,73.0 19.5,74.5 27.5,74.8 35.5,74.0 43.5,74.6 51.5,77.1 59.5,78.9 67.5,82.6 75.5,85.9 83.5,88.1 91.5,89.8 99.5,95.5 107.5,99.1 115.5,99.4 123.5,100.4 131.5,99.6 139.5,101.2 147.5,103.3 155.5,104.8 163.5,105.4 171.5,105.9 179.5,105.4 187.5,107.9 195.5,106.3 203.5,105.5 211.5,105.2 219.5,107.7 227.5,110.7 235.5,113.1 243.5,115.7 251.5,119.4 259.5,123.4 267.5,126.9 275.5,131.7 283.5,141.0 291.5,153.3 299.5,162.8 307.5,170.7 315.5,178.5 323.5,186.1 331.5,197.1 339.5,209.0 347.5,218.1 355.5,225.5 363.5,231.9 371.5,236.7 379.5,242.6 387.5,245.7 395.5,246.8 403.5,247.4 411.5,248.4 419.5,247.5 427.5,244.6 435.5,243.4 443.5,240.9 451.5,240.0 459.5,238.9 467.5,239.6 475.5,243.3 483.5,247.4 491.5,254.1 499.5,256.9 507.5,259.2 515.5,263.6 523.5,267.9 531.5,272.7 539.5,277.7 547.5,282.0 555.5,287.8 563.5,291.1 571.5,294.7 579.5,296.3 587.5,298.0 595.5,300.2 603.5,303.3 611.5,309.9 619.5,312.2 627.5,314.9 635.5,314.9 643.5,315.5 651.5,316.8 659.5,320.7 667.5,321.0 675.5,326.1" stroke="#0000ff" stroke-width="1"/>
<polyline points="11.5,74.5 19.5,76.0 27.5,76.0 35.5,74.9 43.5,75.4 51.5,78.2 59.5,80.2 67.5,84.3 75.5,87.9 83.5,90.1 91.5,91.7 99.5,98.1 107.5,101.9 115.5,101.8 123.5,102.5 131.5,101.2 139.5,102.8 147.5,105.0 155.5,106.5 163.5,106.9 171.5,107.2 179.5,106.3 187.5,109.2 195.5,107.0 203.5,105.9 211.5,105.5 219.5,108.4 227.5,111.8 235.5,114.4 243.5,117.2 251.5,121.4 259.5,125.8 267.5,129.4 275.5,134.6 283.5,145.1 291.5,158.9 299.5,169.2 307.5,177.3 315.5,185.3 323.5,193.0 331.5,204.8 339.5,217.5 347.5,226.7 355.5,233.8 363.5,239.9 371.5,244.1 379.5,249.7 387.5,252.1 395.5,252.3 403.5,252.0 411.5,252.4 419.5,250.5 427.5,246.6 435.5,244.8 443.5,241.6 451.5,240.4 459.5,239.1 467.5,239.8 475.5,244.2 483.5,248.9 491.5,256.5 499.5,259.3 507.5,261.6 515.5,266.4 523.5,271.0 531.5,276.1 539.5,281.4 547.5,285.8 555.5,292.0 563.5,295.2 571.5,298.6 579.5,299.7 587.5,301.2 595.5,303.2 603.5,306.3 611.5,313.5 619.5,315.6 627.5,318.2 635.5,317.6 643.5,317.8 651.5,318.9 659.5,323.1 667.5,323.1 675.5,328.7" stroke="#0000ff" stroke-width="1"/>
<polyline points="11.5,76.5 19.5,77.9 27.5,77.5 35.5,75.8 43.5,76.2 51.5,79.5 59.5,81.6 67.5,86.4 75.5,90.3 83.5,92.4 91.5,93.9 99.5,101.3 107.5,105.2 115.5,104.3 123.5,104.7 131.5,102.5 139.5,104.2 147.5,106.6 155.5,108.0 163.5,108.2 171.5,108.3 179.5,107.0 187.5,110.3 195.5,107.4 203.5,106.0 211.5,105.5 219.5,109.1 227.5,113.1 235.5,115.9 243.5,119.1 251.5,123.7 259.5,128.6 267.5,132.4 275.5,138.1 283.5,150.1 291.5,165.8 299.5,176.9 307.5,185.1 315.5,193.1 323.5,200.9 331.5,213.6 339.5,227.1 347.5,236.2 355.5,242.8 363.5,248.2 371.5,251.5 379.5,256.7 387.5,258.1 395.5,257.0 403.5,255.6 411.5,255.2 419.5,252.3 427.5,247.1 435.5,244.9 443.5,240.9 451.5,239.6 459.5,238.1 467.5,239.2 475.5,244.7 483.5,250.3 491.5,259.4 499.5,262.2 507.5,264.4 515.5,269.5 523.5,274.5 531.5,280.0 539.5,285.6 547.5,290.0 555.5,296.7 563.5,299.5 571.5,302.7 579.5,303.2 587.5,304.2 595.5,305.9 603.5,309.2 611.5,317.3 619.5,319.0 627.5,321.4 635.5,320.0 643.5,319.7 651.5,320.7 659.5,325.4 667.5,324.9 675.5,331.3" stroke="#0000ff" stroke-width="1"/>
<polyline points="11.5,82.0 19.5,82.3 27.5,80.2 35.5,76.8 43.5,77.0 51.5,81.7 59.5,84.1 67.5,90.4 75.5,94.9 83.5,96.6 91.5,97.4 99.5,107.3 107.5,111.2 115.5,107.8 123.5,107.2 131.5,103.1 139.5,105.4 147.5,108.6 155.5,110.1 163.5,109.7 171.5,109.3 179.5,107.0 187.5,112.0 195.5,107.0 203.5,105.0 211.5,104.7 219.5,110.3 227.5,115.9 235.5,119.2 243.5,122.8 251.5,128.5 259.5,134.2 267.5,138.1 275.5,144.8 283.5,160.5 291.5,180.7 299.5,192.3 307.5,199.5 315.5,206.7 323.5,213.8 331.5,228.5 339.5,243.8 347.5,251.9 355.5,256.6 363.5,260.1 371.5,261.0 379.5,265.7 387.5,264.8 395.5,260.9 403.5,257.5 411.5,256.3 419.5,251.6 427.5,244.0 435.5,241.7 443.5,236.8 451.5,236.2 459.5,235.1 467.5,237.8 475.5,246.5 483.5,254.3 491.5,266.6 499.5,268.4 507.5,269.6 515.5,275.6 523.5,281.1 531.5,287.0 539.5,293.2 547.5,297.2 555.5,304.8 563.5,306.3 571.5,308.9 579.5,307.6 587.5,307.6 595.5,309.1 603.5,312.9 611.5,323.9 619.5,324.3 627.5,326.1 635.5,322.4 643.5,321.2 651.5,322.1 659.5,328.7 667.5,326.8 675.5,335.9" stroke="#0000ff" stroke-width="1"/>
<polyline points="11.5,85.5 19.5,84.2 27.5,80.1 35.5,75.1 43.5,76.3 51.5,83.6 59.5,86.3 67.5,94.7 75.5,99.3 83.5,99.7 91.5,99.3 99.5,113.2 107.5,116.1 115.5,108.5 123.5,107.3 131.5,101.1 139.5,105.6 147.5,110.3 155.5,111.6 163.5,110.3 171.5,109.4 179.5,106.0 187.5,114.0 195.5,105.5 203.5,103.2 211.5,103.6 219.5,112.6 227.5,119.8 235.5,122.9 243.5,126.4 251.5,133.2 259.5,139.4 267.5,142.7 275.5,150.3 283.5,171.2 291.5,196.1 299.5,205.8 307.5,209.9 315.5,215.4 323.5,221.7 331.5,239.9 339.5,257.2 347.5,262.6 355.5,264.3 363.5,265.6 371.5,264.3 379.5,269.7 387.5,266.3 395.5,259.7 403.5,255.2 411.5,254.6 419.5,248.3 427.5,238.7 435.5,237.8 443.5,232.4 451.5,233.7 459.5,233.4 467.5,238.2 475.5,251.1 483.5,260.5 491.5,275.8 499.5,273.9 507.5,272.9 515.5,280.3 523.5,286.1 531.5,292.6 539.5,299.0 547.5,302.2 555.5,311.1 563.5,310.2 571.5,312.1 579.5,308.5 587.5,308.1 595.5,310.1 603.5,315.2 611.5,330.6 619.5,327.8 627.5,328.8 635.5,321.9 643.5,320.3 651.5,322.1 659.5,332.1 667.5,327.5 675.5,340.8" stroke="#0000ff" stroke-width="1"/>
<polyline points="11.5,68.6 19.5,69.6 27.5,70.0 35.5,70.0 43.5,70.5 51.5,71.8 59.5,72.9 67.5,74.8 75.5,76.7 83.5,78.2 91.5,79.6 99.5,82.6 107.5,85.0 115.5,86.0 123.5,87.3 131.5,87.8 139.5,89.2 147.5,90.9 155.5,92.3 163.5,93.4 171.5,94.4 179.5,94.9 187.5,96.6 195.5,96.7 203.5,96.9 211.5,97.4 219.5,99.0 227.5,100.8 235.5,102.4 243.5,104.2 251.5,106.5 259.5,109.0 267.5,111.4 275.5,114.4 283.5,119.4 291.5,126.0 299.5,131.7 307.5,137.0 315.5,142.5 323.5,148.0 331.5,155.1 339.5,162.8 347.5,169.6 355.5,175.8 363.5,181.7 371.5,186.9 379.5,192.6 387.5,197.1 395.5,200.7 403.5,204.0 411.5,207.2 419.5,209.4 427.5,210.7 435.5,212.4 443.5,213.3 451.5,214.7 459.5,215.9 467.5,217.7 475.5,220.7 483.5,223.8 491.5,228.2 499.5,231.0 507.5,233.6 515.5,237.1 523.5,240.7 531.5,244.4 539.5,248.4 547.5,252.0 555.5,256.4 563.5,259.8 571.5,263.3 579.5,266.0 587.5,268.7 595.5,271.5 603.5,274.7 611.5,279.3 619.5,282.2 627.5,285.3 635.5,287.2 643.5,289.2 651.5,291.5 659.5,294.7 667.5,296.6 675.5,300.3" stroke="#00ffff" stroke-width="2"/>
</g>
<g clip-path="url(#mc)"><polygon points="42.40,45.60 44.20,48.88 47.94,48.80 46.00,52.00 47.94,55.20 44.20,55.12 42.40,58.40 40.60,55.12 36.86,55.20 38.80,52.00 36.86,48.80 40.60,48.88" fill="#d3d3d3"/><path d="M51.5,48 L51.5,64.5" stroke="#d3d3d3" stroke-width="3"/><path d="M42.5,57 L51.5,66 L60.5,57" fill="none" stroke="#d3d3d3" stroke-width="3" stroke-linejoin="miter"/><polygon points="202.70,75.20 204.50,78.48 208.24,78.40 206.30,81.60 208.24,84.80 204.50,84.72 202.70,88.00 200.90,84.72 197.16,84.80 199.10,81.60 197.16,78.40 200.90,78.48" fill="#d3d3d3"/><path d="M211.5,72 L211.5,90.5" stroke="#d3d3d3" stroke-width="3"/><path d="M202.5,83 L211.5,92 L220.5,83" fill="none" stroke="#d3d3d3" stroke-width="3" stroke-linejoin="miter"/></g>
<g clip-path="url(#rc)" shape-rendering="crispEdges"><polyline points="11.5,484.3 19.5,481.6 27.5,473.4 35.5,464.8 43.5,471.8 51.5,483.7 59.5,482.0 67.5,491.9 75.5,491.9 83.5,484.8 91.5,484.8 99.5,500.7 107.5,493.0 115.5,475.5 123.5,478.8 131.5,470.7 139.5,479.1 147.5,482.0 155.5,480.8 163.5,473.9 171.5,477.2 179.5,470.7 187.5,482.7 195.5,463.6 203.5,466.9 211.5,471.0 219.5,478.3 227.5,480.8 235.5,480.0 243.5,482.7 251.5,488.1 259.5,490.5 267.5,490.9 275.5,496.3 283.5,509.3 291.5,515.8 299.5,510.1 307.5,510.1 315.5,512.6 323.5,513.0 331.5,519.9 339.5,522.8 347.5,515.8 355.5,515.8 363.5,515.3 371.5,512.9 379.5,515.0 387.5,504.4 395.5,494.6 403.5,493.8 411.5,493.8 419.5,484.3 427.5,474.6 435.5,479.1 443.5,471.8 451.5,477.0 459.5,474.7 467.5,478.8 475.5,490.2 483.5,493.0 491.5,501.1 499.5,486.0 507.5,486.0 515.5,493.5 523.5,493.8 531.5,497.4 539.5,500.0 547.5,500.0 555.5,505.2 563.5,496.3 571.5,497.0 579.5,488.6 587.5,490.2 595.5,492.2 603.5,495.1 611.5,505.7 619.5,488.6 627.5,489.7 635.5,478.8 643.5,481.6 651.5,482.7 659.5,491.0 667.5,474.6 675.5,488.9" fill="none" stroke="#1e90ff" stroke-width="2" stroke-linejoin="round"/></g>
<g font-family="Liberation Sans, sans-serif" font-size="10px" text-rendering="geometricPrecision" fill="#fff">
<polygon points="14,39 21,39 17.5,43" fill="#fff"/>
<text x="26.30" y="44" textLength="55.31" lengthAdjust="spacingAndGlyphs">USDCAD,H1</text>
<text x="88.00" y="44" textLength="32.54" lengthAdjust="spacingAndGlyphs">1.20629</text>
<text x="123.85" y="44" textLength="32.54" lengthAdjust="spacingAndGlyphs">1.20679</text>
<text x="159.70" y="44" textLength="32.54" lengthAdjust="spacingAndGlyphs">1.20628</text>
<text x="195.55" y="44" textLength="32.54" lengthAdjust="spacingAndGlyphs">1.20645</text>
<text x="15.40" y="392" textLength="67.26" lengthAdjust="spacingAndGlyphs">RSI(14) 48.4371</text>
<text x="685.57" y="48" textLength="33.57" lengthAdjust="spacingAndGlyphs">1.23165</text>
<text x="685.57" y="81" textLength="33.57" lengthAdjust="spacingAndGlyphs">1.22925</text>
<text x="685.57" y="114" textLength="33.57" lengthAdjust="spacingAndGlyphs">1.22685</text>
<text x="685.57" y="147" textLength="33.57" lengthAdjust="spacingAndGlyphs">1.22445</text>
<text x="685.57" y="180" textLength="33.57" lengthAdjust="spacingAndGlyphs">1.22205</text>
<text x="685.57" y="213" textLength="33.57" lengthAdjust="spacingAndGlyphs">1.21965</text>
<text x="685.57" y="246" textLength="33.57" lengthAdjust="spacingAndGlyphs">1.21725</text>
<text x="685.57" y="279" textLength="33.57" lengthAdjust="spacingAndGlyphs">1.21485</text>
<text x="685.57" y="312" textLength="33.57" lengthAdjust="spacingAndGlyphs">1.21245</text>
<text x="685.57" y="345" textLength="33.57" lengthAdjust="spacingAndGlyphs">1.21005</text>
<text x="685.57" y="378" textLength="33.57" lengthAdjust="spacingAndGlyphs">1.20765</text>
<text x="683.59" y="390" textLength="15.12" lengthAdjust="spacingAndGlyphs">100</text>
<text x="683.20" y="435" textLength="9.61" lengthAdjust="spacingAndGlyphs">70</text>
<text x="683.20" y="469" textLength="9.61" lengthAdjust="spacingAndGlyphs">50</text>
<text x="683.20" y="503" textLength="9.61" lengthAdjust="spacingAndGlyphs">30</text>
<text x="684.20" y="547" textLength="4.17" lengthAdjust="spacingAndGlyphs">0</text>
<text x="10.10" y="563" textLength="49.95" lengthAdjust="spacingAndGlyphs">5 May 2021</text>
<text x="74.10" y="563" textLength="53.05" lengthAdjust="spacingAndGlyphs">5 May 14:00</text>
<text x="138.10" y="563" textLength="53.05" lengthAdjust="spacingAndGlyphs">5 May 22:00</text>
<text x="202.10" y="563" textLength="53.05" lengthAdjust="spacingAndGlyphs">6 May 06:00</text>
<text x="266.10" y="563" textLength="53.05" lengthAdjust="spacingAndGlyphs">6 May 14:00</text>
<text x="330.10" y="563" textLength="53.05" lengthAdjust="spacingAndGlyphs">6 May 22:00</text>
<text x="394.10" y="563" textLength="53.05" lengthAdjust="spacingAndGlyphs">7 May 06:00</text>
<text x="458.10" y="563" textLength="53.05" lengthAdjust="spacingAndGlyphs">7 May 14:00</text>
<text x="522.10" y="563" textLength="53.05" lengthAdjust="spacingAndGlyphs">7 May 22:00</text>
<text x="585.75" y="563" textLength="57.68" lengthAdjust="spacingAndGlyphs">10 May 06:00</text>
<text x="649.75" y="563" textLength="57.68" lengthAdjust="spacingAndGlyphs">10 May 14:00</text>
</g>
</svg>
</body></html>
